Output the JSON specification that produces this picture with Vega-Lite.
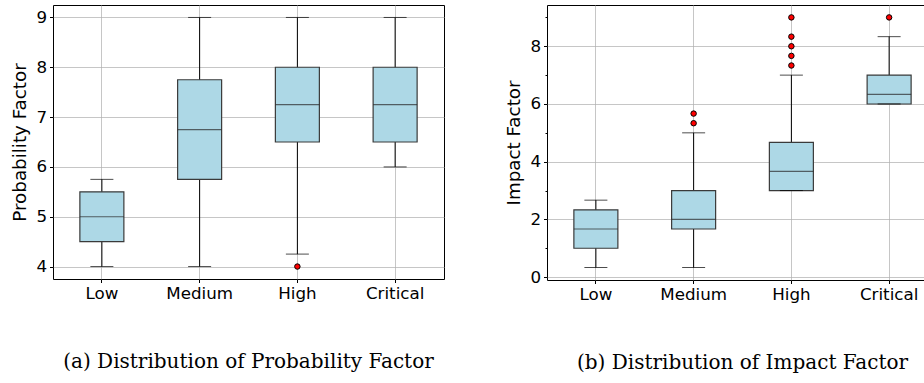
{
  "$schema": "https://vega.github.io/schema/vega-lite/v6.json",
  "padding": {"left": 10, "top": 4, "right": 0, "bottom": 0},
  "background": "white",
  "config": {
    "view": {"stroke": "black", "strokeWidth": 1},
    "axis": {
      "labelFont": "DejaVu Sans", "labelFontSize": 16.7, "labelColor": "black",
      "titleFont": "DejaVu Sans", "titleFontSize": 18.3, "titleFontWeight": "normal", "titleColor": "black",
      "gridColor": "#b0b0b0", "gridWidth": 0.8, "gridOpacity": 0.9,
      "tickColor": "black", "tickSize": 3.5, "labelPadding": 3, "domain": false
    },
    "title": {"font": "DejaVu Serif", "fontSize": 20, "fontWeight": "normal", "color": "black", "orient": "bottom", "offset": 50, "frame": "group", "anchor": "middle"}
  },
  "datasets": {
    "prob": [
      {"cat": "Low", "lo": 4, "q1": 4.5, "med": 5, "q3": 5.5, "hi": 5.75},
      {"cat": "Medium", "lo": 4, "q1": 5.75, "med": 6.75, "q3": 7.75, "hi": 9},
      {"cat": "High", "lo": 4.25, "q1": 6.5, "med": 7.25, "q3": 8, "hi": 9},
      {"cat": "Critical", "lo": 6, "q1": 6.5, "med": 7.25, "q3": 8, "hi": 9}
    ],
    "probOut": [
      {"cat": "High", "v": 4}
    ],
    "imp": [
      {"cat": "Low", "lo": 0.333, "q1": 1, "med": 1.667, "q3": 2.333, "hi": 2.667},
      {"cat": "Medium", "lo": 0.333, "q1": 1.667, "med": 2, "q3": 3, "hi": 5},
      {"cat": "High", "lo": 3, "q1": 3, "med": 3.667, "q3": 4.667, "hi": 7},
      {"cat": "Critical", "lo": 6, "q1": 6, "med": 6.333, "q3": 7, "hi": 8.333}
    ],
    "impOut": [
      {"cat": "Medium", "v": 5.333},
      {"cat": "Medium", "v": 5.667},
      {"cat": "High", "v": 7.333},
      {"cat": "High", "v": 7.667},
      {"cat": "High", "v": 8},
      {"cat": "High", "v": 8.333},
      {"cat": "High", "v": 9},
      {"cat": "Critical", "v": 9}
    ]
  },
  "hconcat": [
    {
      "width": 391, "height": 274,
      "title": {"text": "(a) Distribution of Probability Factor"},
      "layer": [
        {
          "data": {"name": "prob"},
          "mark": {"type": "rule", "color": "black", "strokeWidth": 1},
          "encoding": {
            "x": {"field": "cat", "type": "nominal", "sort": ["Low", "Medium", "High", "Critical"], "scale": {"paddingInner": 0, "paddingOuter": 0}, "axis": {"title": null, "labelAngle": 0, "grid": true, "bandPosition": 0.5}},
            "y": {"field": "lo", "type": "quantitative", "scale": {"domain": [3.75, 9.25], "nice": false, "zero": false}, "axis": {"title": "Probability Factor", "values": [4, 5, 6, 7, 8, 9], "grid": true, "titlePadding": 6}},
            "y2": {"field": "hi"}
          }
        },
        {
          "data": {"name": "prob"},
          "mark": {"type": "bar", "fill": "#add8e6", "stroke": "#3a3a3a", "strokeWidth": 1.2, "size": 44},
          "encoding": {
            "x": {"field": "cat", "type": "nominal", "sort": ["Low", "Medium", "High", "Critical"]},
            "y": {"field": "q1", "type": "quantitative"},
            "y2": {"field": "q3"}
          }
        },
        {
          "data": {"name": "prob"},
          "mark": {"type": "tick", "color": "#2a2a2a", "size": 44, "thickness": 1.2, "orient": "horizontal"},
          "encoding": {
            "x": {"field": "cat", "type": "nominal", "sort": ["Low", "Medium", "High", "Critical"]},
            "y": {"field": "med", "type": "quantitative"}
          }
        },
        {
          "data": {"name": "prob"},
          "mark": {"type": "tick", "color": "black", "size": 23, "thickness": 1, "orient": "horizontal"},
          "encoding": {
            "x": {"field": "cat", "type": "nominal", "sort": ["Low", "Medium", "High", "Critical"]},
            "y": {"field": "lo", "type": "quantitative"}
          }
        },
        {
          "data": {"name": "prob"},
          "mark": {"type": "tick", "color": "black", "size": 23, "thickness": 1, "orient": "horizontal"},
          "encoding": {
            "x": {"field": "cat", "type": "nominal", "sort": ["Low", "Medium", "High", "Critical"]},
            "y": {"field": "hi", "type": "quantitative"}
          }
        },
        {
          "data": {"name": "probOut"},
          "mark": {"type": "point", "shape": "circle", "filled": true, "fill": "red", "stroke": "black", "strokeWidth": 1, "size": 30, "opacity": 1},
          "encoding": {
            "x": {"field": "cat", "type": "nominal", "sort": ["Low", "Medium", "High", "Critical"]},
            "y": {"field": "v", "type": "quantitative"}
          }
        }
      ]
    },
    {
      "width": 391, "height": 275,
      "title": {"text": "(b) Distribution of Impact Factor"},
      "resolve": {"axis": {"y": "independent"}},
      "layer": [
        {
          "data": {"name": "imp"},
          "mark": {"type": "rule", "color": "black", "strokeWidth": 1},
          "encoding": {
            "x": {"field": "cat", "type": "nominal", "sort": ["Low", "Medium", "High", "Critical"], "scale": {"paddingInner": 0, "paddingOuter": 0}, "axis": {"title": null, "labelAngle": 0, "grid": true, "bandPosition": 0.5}},
            "y": {"field": "lo", "type": "quantitative", "scale": {"domain": [-0.1, 9.43], "nice": false, "zero": false}, "axis": {"title": "Impact Factor", "values": [0, 2, 4, 6, 8], "grid": true, "titlePadding": 6, "orient": "left"}},
            "y2": {"field": "hi"}
          }
        },
        {
          "data": {"name": "imp"},
          "mark": {"type": "bar", "fill": "#add8e6", "stroke": "#3a3a3a", "strokeWidth": 1.2, "size": 44},
          "encoding": {
            "x": {"field": "cat", "type": "nominal", "sort": ["Low", "Medium", "High", "Critical"]},
            "y": {"field": "q1", "type": "quantitative", "axis": {"orient": "left", "title": null, "values": [1, 3, 5, 7, 9], "labels": false, "grid": false, "tickSize": 2}},
            "y2": {"field": "q3"}
          }
        },
        {
          "data": {"name": "imp"},
          "mark": {"type": "tick", "color": "#2a2a2a", "size": 44, "thickness": 1.2, "orient": "horizontal"},
          "encoding": {
            "x": {"field": "cat", "type": "nominal", "sort": ["Low", "Medium", "High", "Critical"]},
            "y": {"field": "med", "type": "quantitative", "axis": null}
          }
        },
        {
          "data": {"name": "imp"},
          "mark": {"type": "tick", "color": "black", "size": 23, "thickness": 1, "orient": "horizontal"},
          "encoding": {
            "x": {"field": "cat", "type": "nominal", "sort": ["Low", "Medium", "High", "Critical"]},
            "y": {"field": "lo", "type": "quantitative", "axis": null}
          }
        },
        {
          "data": {"name": "imp"},
          "mark": {"type": "tick", "color": "black", "size": 23, "thickness": 1, "orient": "horizontal"},
          "encoding": {
            "x": {"field": "cat", "type": "nominal", "sort": ["Low", "Medium", "High", "Critical"]},
            "y": {"field": "hi", "type": "quantitative", "axis": null}
          }
        },
        {
          "data": {"name": "impOut"},
          "mark": {"type": "point", "shape": "circle", "filled": true, "fill": "red", "stroke": "black", "strokeWidth": 1, "size": 30, "opacity": 1},
          "encoding": {
            "x": {"field": "cat", "type": "nominal", "sort": ["Low", "Medium", "High", "Critical"]},
            "y": {"field": "v", "type": "quantitative", "axis": null}
          }
        }
      ]
    }
  ],
  "spacing": 103,
  "bounds": "flush"
}
